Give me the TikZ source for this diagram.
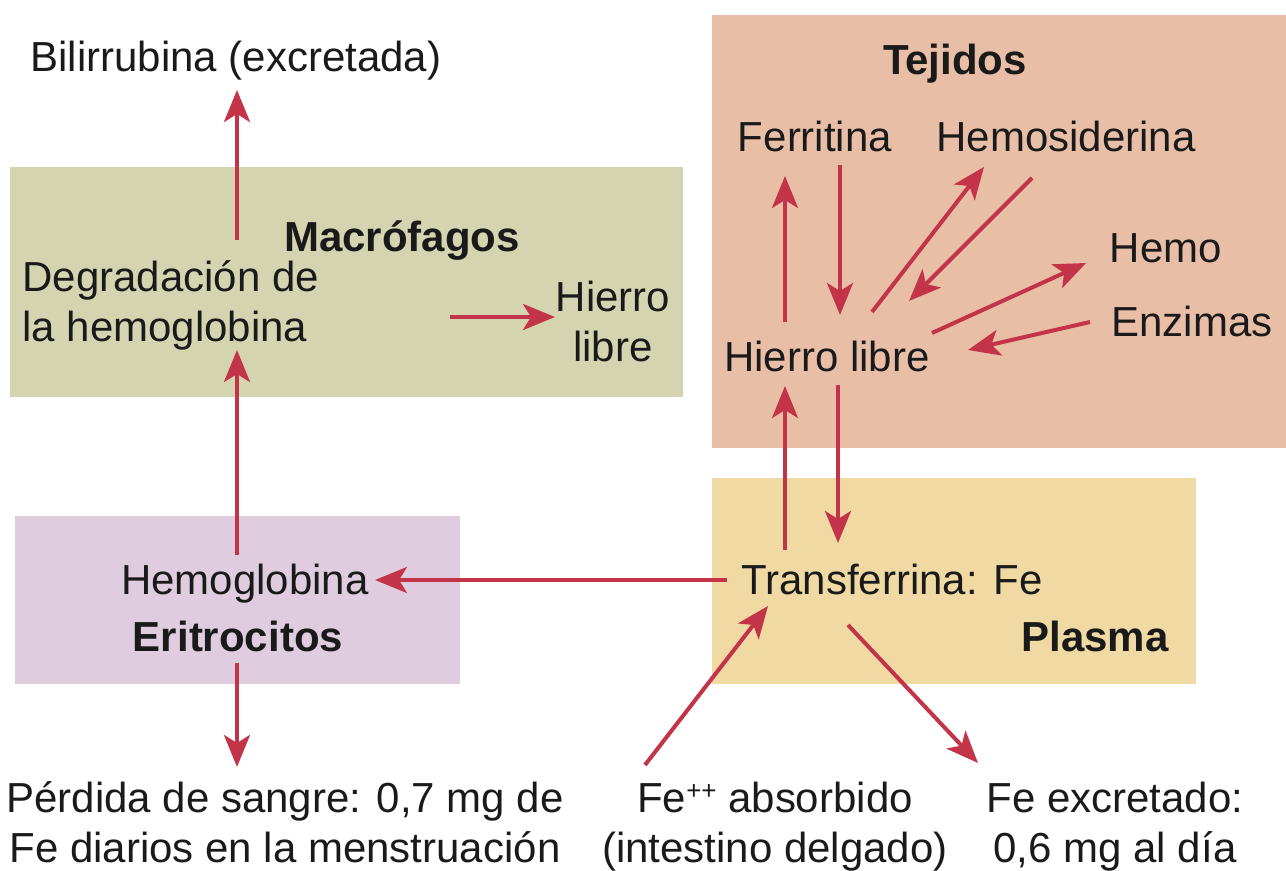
\documentclass[tikz,border=0pt]{standalone}
\usepackage{fontspec}
\setmainfont{Liberation Sans}
\usetikzlibrary{arrows.meta}
\definecolor{macrofill}{HTML}{D4D5B0}
\definecolor{tejfill}{HTML}{E8BFA6}
\definecolor{plasfill}{HTML}{F1D9A4}
\definecolor{erifill}{HTML}{DFCDDF}
\definecolor{arrowred}{HTML}{C43449}
\definecolor{ink}{HTML}{1A1A1A}
\begin{document}
\begin{tikzpicture}[x=0.5pt,y=-0.5pt,
  txt/.style={font=\fontsize{21}{25}\selectfont, text=ink, inner sep=0pt, anchor=base, align=center},
  ttl/.style={txt, font=\fontsize{21}{25}\selectfont\bfseries},
  arr/.style={draw=arrowred, line width=2pt, -{Stealth[length=16pt,width=13pt,inset=4pt]}}]
\useasboundingbox (0,0) rectangle (1286,871);
% regions
\fill[macrofill] (10,167) rectangle (683,397);
\fill[tejfill] (712,15) rectangle (1286,448);
\fill[plasfill] (712,478) rectangle (1196,684);
\fill[erifill] (15,516) rectangle (460,684);
% texts (multi-line nodes are placed at the baseline of their last line)
\node[txt] (bili) at (236,72) {Bilirrubina (excretada)};
\node[ttl] (macro) at (402,252) {Macrófagos};
\node[txt, anchor=base west, align=left] (degr) at (22,342) {Degradación de\\la hemoglobina};
\node[txt] (hlm) at (613,362) {Hierro\\libre};
\node[ttl] (tej) at (955,75) {Tejidos};
\node[txt] (ferr) at (815,152) {Ferritina};
\node[txt] (hemos) at (1066,152) {Hemosiderina};
\node[txt] (hemo) at (1166,263) {Hemo};
\node[txt] (enz) at (1192,337) {Enzimas};
\node[txt] (hlt) at (827,372) {Hierro libre};
\node[txt] (transf) at (892,595) {Transferrina: Fe};
\node[ttl] (plas) at (1095,652) {Plasma};
\node[txt] (hemog) at (245,595) {Hemoglobina};
\node[ttl] (eri) at (238,652) {Eritrocitos};
\node[txt] (perd) at (285,862) {Pérdida de sangre: 0,7 mg de\\Fe diarios en la menstruación};
\node[txt] (abs) at (775,862) {Fe\raisebox{0.55ex}{\fontsize{13}{13}\selectfont ++} absorbido\\(intestino delgado)};
\node[txt] (excr) at (1115,862) {Fe excretado:\\0,6 mg al día};
% connector end points
\coordinate (biliS) at (237,240); \coordinate (biliE) at (237,90);
\coordinate (hgS) at (237,555); \coordinate (hgE) at (237,350);
\coordinate (hlmS) at (450,317); \coordinate (hlmE) at (555,317);
\coordinate (eriS) at (237,663); \coordinate (eriE) at (237,767);
\coordinate (trS) at (727,580); \coordinate (trE) at (375,580);
\coordinate (upS) at (785,550); \coordinate (upE) at (785,386);
\coordinate (dnS) at (838,385); \coordinate (dnE) at (838,543);
\coordinate (ferS) at (785,322); \coordinate (ferE) at (785,176);
\coordinate (ferdS) at (840,165); \coordinate (ferdE) at (840,315);
\coordinate (hsS) at (872,312); \coordinate (hsE) at (984,167);
\coordinate (hsdS) at (1032,178); \coordinate (hsdE) at (909,301);
\coordinate (hmS) at (932,333); \coordinate (hmE) at (1086,263);
\coordinate (enS) at (1090,322); \coordinate (enE) at (968,350);
\coordinate (absS) at (645,765); \coordinate (absE) at (768,606);
\coordinate (exS) at (848,625); \coordinate (exE) at (978,763);
% connectors
\draw[arr] (biliS) -- (biliE);
\draw[arr] (hgS) -- (hgE);
\draw[arr] (hlmS) -- (hlmE);
\draw[arr] (eriS) -- (eriE);
\draw[arr] (trS) -- (trE);
\draw[arr] (upS) -- (upE);
\draw[arr] (dnS) -- (dnE);
\draw[arr] (ferS) -- (ferE);
\draw[arr] (ferdS) -- (ferdE);
\draw[arr] (hsS) -- (hsE);
\draw[arr] (hsdS) -- (hsdE);
\draw[arr] (hmS) -- (hmE);
\draw[arr] (enS) -- (enE);
\draw[arr] (absS) -- (absE);
\draw[arr] (exS) -- (exE);
\end{tikzpicture}
\end{document}
